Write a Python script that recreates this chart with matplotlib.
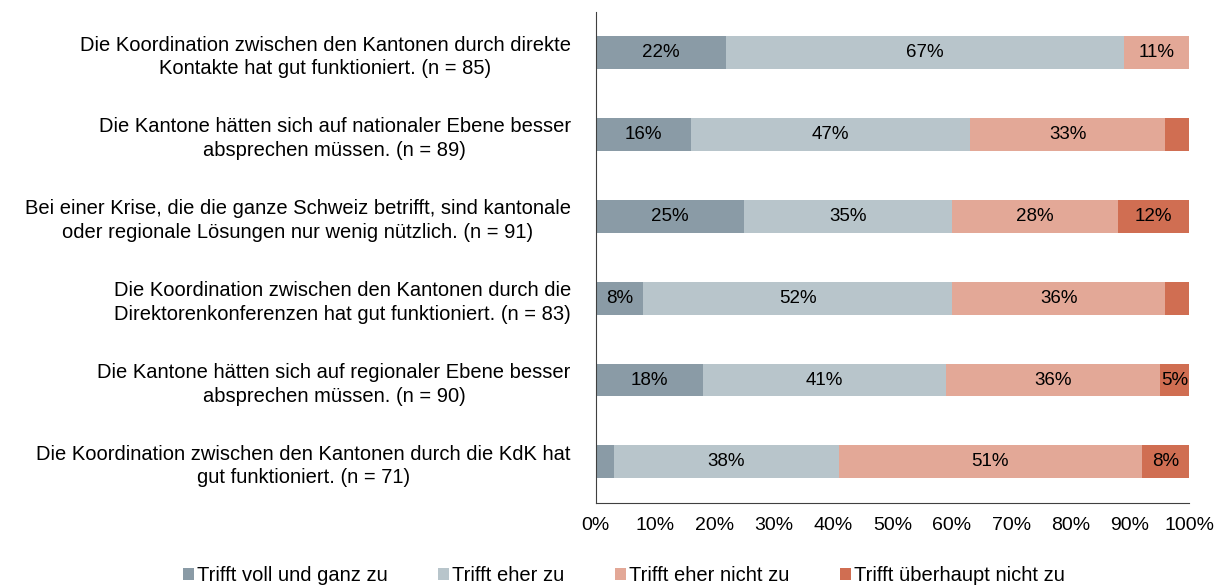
import numpy as np
import matplotlib.pyplot as plt

plt.rcParams["font.family"] = ["Liberation Sans", "DejaVu Sans"]
plt.rcParams["font.size"] = 13

aussagen = [
    "Die Koordination zwischen den Kantonen durch direkte\nKontakte hat gut funktioniert. (n = 85)",
    "Die Kantone hätten sich auf nationaler Ebene besser\nabsprechen müssen. (n = 89)",
    "Bei einer Krise, die die ganze Schweiz betrifft, sind kantonale\noder regionale Lösungen nur wenig nützlich. (n = 91)",
    "Die Koordination zwischen den Kantonen durch die\nDirektorenkonferenzen hat gut funktioniert. (n = 83)",
    "Die Kantone hätten sich auf regionaler Ebene besser\nabsprechen müssen. (n = 90)",
    "Die Koordination zwischen den Kantonen durch die KdK hat\ngut funktioniert. (n = 71)",
]
kategorien = ["Trifft voll und ganz zu", "Trifft eher zu", "Trifft eher nicht zu", "Trifft überhaupt nicht zu"]
voll = [22, 16, 25, 8, 18, 3]
eher = [67, 47, 35, 52, 41, 38]
eher_nicht = [11, 33, 28, 36, 36, 51]
ueberhaupt_nicht = [0, 4, 12, 4, 5, 8]

FARBEN = ["#8A9BA6", "#B8C5CB", "#E3A897", "#D06E52"]
MIN_LABEL = 5

fig = plt.figure(figsize=(12.26, 5.86), dpi=100)
ax = fig.add_axes([0.486, 0.142, 0.484, 0.838])

y = np.arange(len(aussagen))
links = np.zeros(len(aussagen))
for werte, farbe, name in zip([voll, eher, eher_nicht, ueberhaupt_nicht], FARBEN, kategorien):
    werte = np.array(werte, dtype=float)
    ax.barh(y, werte, left=links, height=0.4, color=farbe, label=name)
    for yi, l, w in zip(y, links, werte):
        if w >= MIN_LABEL:
            ax.text(l + w / 2, yi, f"{w:.0f}%", ha="center", va="center", fontsize=13.5)
    links += werte

ax.set_ylim(len(aussagen) - 0.5, -0.5)
ax.set_xlim(0, 100)
ax.set_yticks(y)
ax.set_yticklabels(aussagen, ha="right", multialignment="center", fontsize=14.5, linespacing=1.3)
ax.tick_params(axis="y", length=0, pad=18)
ax.set_xticks(np.arange(0, 101, 10))
ax.set_xticklabels([f"{t}%" for t in range(0, 101, 10)], fontsize=14)
ax.tick_params(axis="x", length=0, pad=10)
for s in ["top", "right"]:
    ax.spines[s].set_visible(False)
ax.spines["left"].set_color("#404040")
ax.spines["bottom"].set_color("#404040")

fig.legend(loc="lower center", bbox_to_anchor=(0.509, -0.03), ncol=4, frameon=False,
           handlelength=0.55, handleheight=0.55, handletextpad=0.15, columnspacing=2.5, fontsize=14.5)

plt.savefig("out.png", dpi=100)
